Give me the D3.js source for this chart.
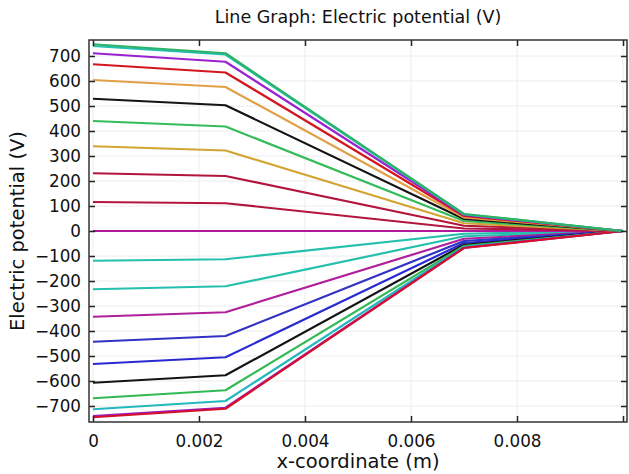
<!DOCTYPE html>
<html>
<head>
<meta charset="utf-8">
<script src="https://cdn.jsdelivr.net/npm/d3@7"></script>
<style>
  body { margin: 0; background: #fff; }
  svg { font-family: "DejaVu Sans", sans-serif; }
</style>
</head>
<body>
<div id="chart"></div>
<script>
// x positions of the probe points (m)
var xs = [0, 0.0025, 0.007, 0.01];

// potential at each x for every curve (V)
var v00 = [747, 711, 68, 0];
var v01 = [740, 706, 67, 0];
var v02 = [711, 677, 64, 0];
var v03 = [667, 634, 60, 0];
var v04 = [604, 576, 54, 0];
var v05 = [529, 503, 48, 0];
var v06 = [440, 418, 40, 0];
var v07 = [339, 322, 31, 0];
var v08 = [231, 220, 21, 0];
var v09 = [116, 111, 10, 0];
var v10 = [0, 0, 0, 0];
var v11 = [-119, -113, -11, 0];
var v12 = [-233, -221, -21, 0];
var v13 = [-343, -325, -31, 0];
var v14 = [-443, -420, -40, 0];
var v15 = [-532, -505, -48, 0];
var v16 = [-607, -577, -55, 0];
var v17 = [-669, -637, -60, 0];
var v18 = [-713, -680, -64, 0];
var v19 = [-740, -707, -67, 0];
var v20 = [-745, -711, -68, 0];

var curves = [v11, v12, v13, v14, v15, v16, v17, v18, v19, v20,
              v10, v09, v08, v07, v06, v05, v04, v03, v02, v01, v00];
var colors = ["#25bfae", "#25bfae", "#b0209a", "#3232c4", "#2a2ad2", "#141414", "#32b955", "#22b8bc", "#9a1fb8", "#d4102c",
              "#b2189e", "#b2163c", "#b2163c", "#d2a432", "#34bb5a", "#141414", "#e0a046", "#d2161e", "#9b20d0", "#22bfb4", "#2cb368"];

var xTicks = [0, 0.002, 0.004, 0.006, 0.008, 0.01];
var xLabels = ["0", "0.002", "0.004", "0.006", "0.008", ""];
var yTicks = [-700, -600, -500, -400, -300, -200, -100, 0, 100, 200, 300, 400, 500, 600, 700];

// ######### LAYOUT ###########
var width = 629, height = 474;
var pLeft = 89, pRight = 627, pTop = 40, pBottom = 422;

var svg = d3.select("#chart").append("svg")
    .attr("width", width)
    .attr("height", height);

var x = d3.scaleLinear().domain([-0.000075, 0.010075]).range([pLeft, pRight]);
var y = d3.scaleLinear().domain([-764, 764]).range([pBottom, pTop]);

// grid
svg.append("g").selectAll("line").data(xTicks).enter().append("line")
    .attr("x1", function(d) { return x(d); }).attr("x2", function(d) { return x(d); })
    .attr("y1", pTop).attr("y2", pBottom)
    .attr("stroke", "#ececec").attr("stroke-width", 1);
svg.append("g").selectAll("line").data(yTicks).enter().append("line")
    .attr("x1", pLeft).attr("x2", pRight)
    .attr("y1", function(d) { return y(d); }).attr("y2", function(d) { return y(d); })
    .attr("stroke", "#ececec").attr("stroke-width", 1);

// curves
var line = d3.line()
    .x(function(d, i) { return x(xs[i]); })
    .y(function(d) { return y(d); });

svg.append("g").selectAll("path").data(curves).enter().append("path")
    .attr("d", line)
    .attr("fill", "none")
    .attr("stroke", function(d, i) { return colors[i]; })
    .attr("stroke-width", 2.2)
    .attr("stroke-linejoin", "round");

// axes with inward ticks on all sides
var tick = 6;
svg.append("g").attr("transform", "translate(0," + pBottom + ")")
    .call(d3.axisBottom(x).tickValues(xTicks).tickSizeInner(-tick).tickSizeOuter(0)
        .tickPadding(13).tickFormat(function(d, i) { return xLabels[i]; }));
svg.append("g").attr("transform", "translate(0," + pTop + ")")
    .call(d3.axisTop(x).tickValues(xTicks).tickSizeInner(-tick).tickSizeOuter(0).tickFormat(""));
svg.append("g").attr("transform", "translate(" + pLeft + ",0)")
    .call(d3.axisLeft(y).tickValues(yTicks).tickSizeInner(-tick).tickSizeOuter(0).tickPadding(8));
svg.append("g").attr("transform", "translate(" + pRight + ",0)")
    .call(d3.axisRight(y).tickValues(yTicks).tickSizeInner(-tick).tickSizeOuter(0).tickFormat(""));

svg.selectAll(".tick line").attr("stroke", "#222").attr("stroke-width", 1.5);
svg.selectAll(".domain").remove();
svg.selectAll(".tick text").attr("font-size", 16.8).attr("fill", "#111")
    .attr("font-family", "DejaVu Sans, sans-serif");

// frame
svg.append("rect")
    .attr("x", pLeft).attr("y", pTop)
    .attr("width", pRight - pLeft).attr("height", pBottom - pTop)
    .attr("fill", "none").attr("stroke", "#333").attr("stroke-width", 1.5);

// titles
svg.append("text")
    .attr("x", (pLeft + pRight) / 2).attr("y", 23)
    .attr("text-anchor", "middle").attr("font-size", 17.5).attr("fill", "#111")
    .text("Line Graph: Electric potential (V)");
svg.append("text")
    .attr("x", (pLeft + pRight) / 2).attr("y", 468)
    .attr("text-anchor", "middle").attr("font-size", 19.5).attr("fill", "#111")
    .text("x-coordinate (m)");
svg.append("text")
    .attr("transform", "translate(24," + y(0) + ") rotate(-90)")
    .attr("text-anchor", "middle").attr("font-size", 19.5).attr("fill", "#111")
    .text("Electric potential (V)");
</script>
</body>
</html>
